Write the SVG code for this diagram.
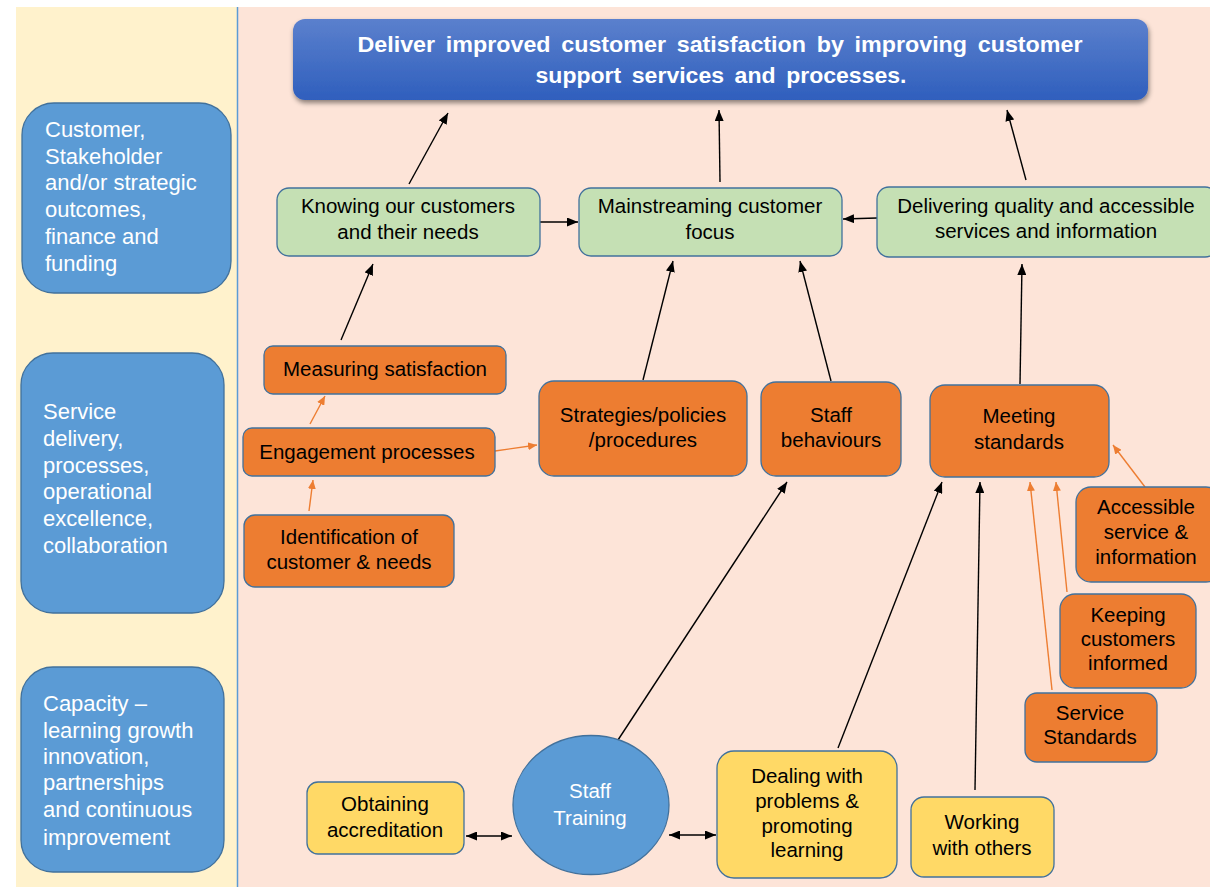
<svg xmlns="http://www.w3.org/2000/svg" width="1210" height="887" viewBox="0 0 1210 887">
<defs>
<linearGradient id="topg" x1="0" y1="0" x2="0" y2="1">
<stop offset="0" stop-color="#5b80cd"/>
<stop offset="1" stop-color="#2f5fbd"/>
</linearGradient>
<filter id="sh" x="-5%" y="-20%" width="110%" height="150%">
<feDropShadow dx="1" dy="3" stdDeviation="2.5" flood-color="#000" flood-opacity="0.45"/>
</filter>
<marker id="ab" viewBox="0 0 11 9" refX="11" refY="4.5" markerWidth="11" markerHeight="9" markerUnits="userSpaceOnUse" orient="auto-start-reverse">
<path d="M0,0 L11,4.5 L0,9 z" fill="#000"/>
</marker>
<marker id="ao" viewBox="0 0 9 8" refX="9" refY="4" markerWidth="9" markerHeight="8" markerUnits="userSpaceOnUse" orient="auto">
<path d="M0,0 L9,4 L0,8 z" fill="#ed7d31"/>
</marker>
</defs>
<style>
.t{font-family:"Liberation Sans",Arial,sans-serif;font-size:20.5px;fill:#000;text-anchor:middle}
.lt{font-family:"Liberation Sans",Arial,sans-serif;font-size:22px;fill:#fff}
.tt{font-family:"Liberation Sans",Arial,sans-serif;font-size:22px;font-weight:bold;fill:#fff;text-anchor:middle;word-spacing:4px}
.bx{stroke:#41719c;stroke-width:1.3}
.bl{fill:#5b9bd5}
.gr{fill:#c5e0b4}
.or{fill:#ed7d31}
.ye{fill:#ffd966}
.cb{stroke:#000;stroke-width:1.4;fill:none;marker-end:url(#ab)}
.co{stroke:#ed7d31;stroke-width:1.4;fill:none;marker-end:url(#ao)}
</style>
<rect x="0" y="0" width="1210" height="887" fill="#fff"/>
<rect x="16" y="7" width="222" height="880" fill="#fff2cc"/>
<rect x="238" y="7" width="972" height="880" fill="#fde4d8"/>
<line x1="237.5" y1="7" x2="237.5" y2="887" stroke="#5b9bd5" stroke-width="1.5"/>

<g id="top">
<rect x="293" y="19" width="855" height="81" rx="12" fill="url(#topg)" filter="url(#sh)"/>
<text class="tt" x="720" y="52" textLength="725" lengthAdjust="spacingAndGlyphs">Deliver improved customer satisfaction by improving customer</text>
<text class="tt" x="721" y="83" textLength="371" lengthAdjust="spacingAndGlyphs">support services and processes.</text>
</g>

<g id="lane1">
<rect class="bx bl" x="22" y="103" width="209" height="190" rx="32"/>
<text class="lt" x="45" y="137">Customer,</text>
<text class="lt" x="45" y="164">Stakeholder</text>
<text class="lt" x="45" y="190">and/or strategic</text>
<text class="lt" x="45" y="217">outcomes,</text>
<text class="lt" x="45" y="244">finance and</text>
<text class="lt" x="45" y="271">funding</text>
</g>
<g id="lane2">
<rect class="bx bl" x="21" y="353" width="203" height="260" rx="32"/>
<text class="lt" x="43" y="419">Service</text>
<text class="lt" x="43" y="446">delivery,</text>
<text class="lt" x="43" y="473">processes,</text>
<text class="lt" x="43" y="499">operational</text>
<text class="lt" x="43" y="526">excellence,</text>
<text class="lt" x="43" y="553">collaboration</text>
</g>
<g id="lane3">
<rect class="bx bl" x="21" y="667" width="203" height="205" rx="32"/>
<text class="lt" x="43" y="711">Capacity –</text>
<text class="lt" x="43" y="738">learning growth</text>
<text class="lt" x="43" y="764">innovation,</text>
<text class="lt" x="43" y="790">partnerships</text>
<text class="lt" x="43" y="817">and continuous</text>
<text class="lt" x="43" y="845">improvement</text>
</g>

<g id="connectors">
<line class="cb" x1="409" y1="184" x2="448" y2="113"/>
<line class="cb" x1="720" y1="182" x2="719" y2="110"/>
<line class="cb" x1="1026" y1="180" x2="1007" y2="110"/>
<line class="cb" x1="540" y1="222" x2="578" y2="222"/>
<line class="cb" x1="877" y1="218" x2="843" y2="219"/>
<line class="cb" x1="341" y1="340" x2="373" y2="264"/>
<line class="cb" x1="643" y1="380" x2="673" y2="261"/>
<line class="cb" x1="831" y1="381" x2="800" y2="261"/>
<line class="cb" x1="1020" y1="384" x2="1022" y2="264"/>
<line class="cb" x1="618" y1="740" x2="787" y2="482"/>
<line class="cb" x1="838" y1="748" x2="942" y2="482"/>
<line class="cb" x1="975" y1="790" x2="980" y2="482"/>
<line class="cb" x1="466" y1="836" x2="512" y2="836" marker-start="url(#ab)"/>
<line class="cb" x1="669" y1="835" x2="716" y2="835" marker-start="url(#ab)"/>
<line class="co" x1="310" y1="424" x2="325" y2="396"/>
<line class="co" x1="309" y1="511" x2="313" y2="480"/>
<line class="co" x1="495" y1="451" x2="537" y2="445"/>
<line class="co" x1="1145" y1="487" x2="1113" y2="445"/>
<line class="co" x1="1067" y1="592" x2="1056" y2="482"/>
<line class="co" x1="1052" y1="690" x2="1030" y2="482"/>
</g>

<g id="knowing">
<rect class="bx gr" x="277" y="188" width="263" height="68" rx="12"/>
<text class="t" x="408" y="213">Knowing our customers</text>
<text class="t" x="408" y="239">and their needs</text>
</g>
<g id="mainstreaming">
<rect class="bx gr" x="579" y="188" width="263" height="68" rx="12"/>
<text class="t" x="710" y="213">Mainstreaming customer</text>
<text class="t" x="710" y="239">focus</text>
</g>
<g id="delivering">
<rect class="bx gr" x="877" y="187" width="340" height="70" rx="12"/>
<text class="t" x="1046" y="213">Delivering quality and accessible</text>
<text class="t" x="1046" y="238">services and information</text>
</g>

<g id="measuring">
<rect class="bx or" x="264" y="346" width="242" height="48" rx="9"/>
<text class="t" x="385" y="376">Measuring satisfaction</text>
</g>
<g id="engagement">
<rect class="bx or" x="243" y="428" width="252" height="48" rx="9"/>
<text class="t" x="367" y="459">Engagement processes</text>
</g>
<g id="identification">
<rect class="bx or" x="244" y="515" width="210" height="72" rx="11"/>
<text class="t" x="349" y="544">Identification of</text>
<text class="t" x="349" y="569">customer &amp; needs</text>
</g>
<g id="strategies">
<rect class="bx or" x="539" y="381" width="208" height="95" rx="15"/>
<text class="t" x="643" y="422">Strategies/policies</text>
<text class="t" x="643" y="447">/procedures</text>
</g>
<g id="staffbeh">
<rect class="bx or" x="761" y="382" width="140" height="94" rx="15"/>
<text class="t" x="831" y="422">Staff</text>
<text class="t" x="831" y="447">behaviours</text>
</g>
<g id="meeting">
<rect class="bx or" x="930" y="385" width="179" height="92" rx="15"/>
<text class="t" x="1019" y="423">Meeting</text>
<text class="t" x="1019" y="449">standards</text>
</g>
<g id="accessible">
<rect class="bx or" x="1076" y="487" width="145" height="95" rx="15"/>
<text class="t" x="1146" y="514">Accessible</text>
<text class="t" x="1146" y="539">service &amp;</text>
<text class="t" x="1146" y="564">information</text>
</g>
<g id="keeping">
<rect class="bx or" x="1060" y="594" width="136" height="94" rx="15"/>
<text class="t" x="1128" y="622">Keeping</text>
<text class="t" x="1128" y="646">customers</text>
<text class="t" x="1128" y="670">informed</text>
</g>
<g id="servicestd">
<rect class="bx or" x="1025" y="693" width="132" height="69" rx="12"/>
<text class="t" x="1090" y="720">Service</text>
<text class="t" x="1090" y="744">Standards</text>
</g>

<g id="obtaining">
<rect class="bx ye" x="307" y="782" width="157" height="72" rx="11"/>
<text class="t" x="385" y="811">Obtaining</text>
<text class="t" x="385" y="837">accreditation</text>
</g>
<g id="training">
<ellipse class="bx bl" cx="591" cy="805" rx="78" ry="69.5"/>
<text class="t" x="590" y="798" style="fill:#fff">Staff</text>
<text class="t" x="590" y="825" style="fill:#fff">Training</text>
</g>
<g id="dealing">
<rect class="bx ye" x="717" y="751" width="180" height="127" rx="17"/>
<text class="t" x="807" y="783">Dealing with</text>
<text class="t" x="807" y="808">problems &amp;</text>
<text class="t" x="807" y="833">promoting</text>
<text class="t" x="807" y="857">learning</text>
</g>
<g id="working">
<rect class="bx ye" x="911" y="797" width="143" height="80" rx="13"/>
<text class="t" x="982" y="829">Working</text>
<text class="t" x="982" y="855">with others</text>
</g>
</svg>
